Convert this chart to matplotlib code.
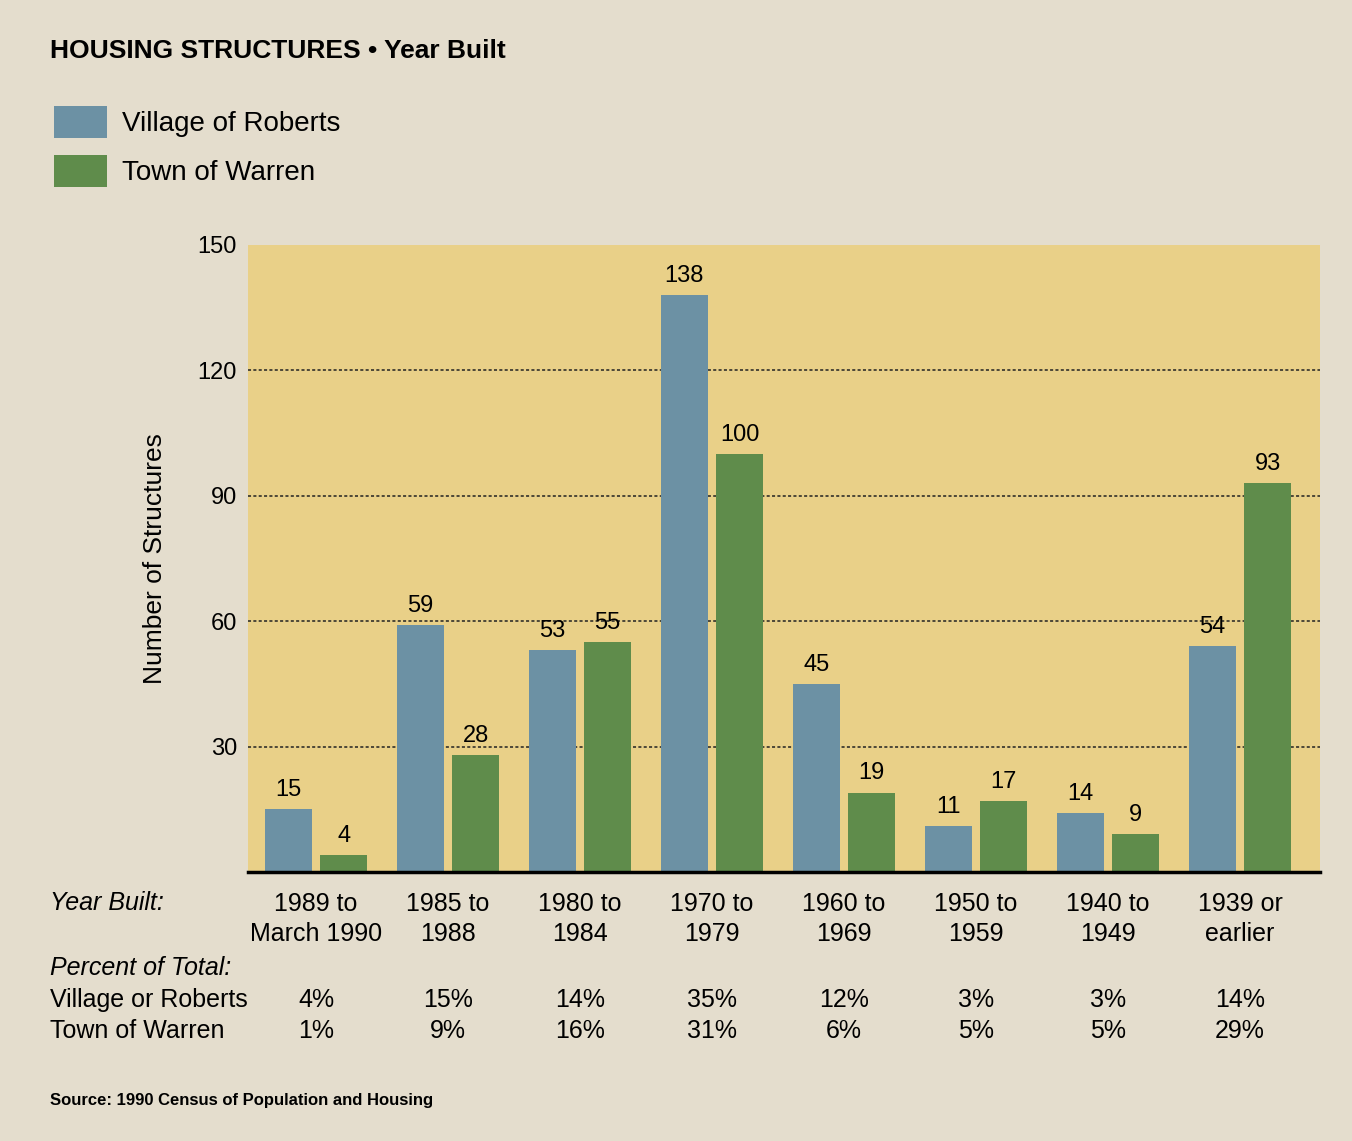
"""Housing structures by year built: Village of Roberts vs Town of Warren."""

import matplotlib

matplotlib.use("Agg")

import matplotlib.pyplot as plt
import numpy as np

periods = ["1989 to\nMarch 1990", "1985 to\n1988", "1980 to\n1984", "1970 to\n1979",
           "1960 to\n1969", "1950 to\n1959", "1940 to\n1949", "1939 or\nearlier"]
roberts = [15, 59, 53, 138, 45, 11, 14, 54]
warren = [4, 28, 55, 100, 19, 17, 9, 93]
roberts_pct = ["4%", "15%", "14%", "35%", "12%", "3%", "3%", "14%"]
warren_pct = ["1%", "9%", "16%", "31%", "6%", "5%", "5%", "29%"]
yticks = [30, 60, 90, 120, 150]

FONT = ["Liberation Sans Narrow", "Liberation Sans", "DejaVu Sans"]
plt.rcParams["font.family"] = FONT

PAPER = "#e4ddcd"
PLOT_BG = "#e9d088"
BLUE = "#6c91a4"
GREEN = "#5f8c4b"

fig = plt.figure(figsize=(13.52, 11.41), dpi=100, facecolor=PAPER)
ax = fig.add_axes([248 / 1352, 1 - 872 / 1141, 1072 / 1352, 627 / 1141])
ax.set_facecolor(PLOT_BG)

x = np.arange(len(periods))
off, w = 0.21, 0.36
b1 = ax.bar(x - off, roberts, w, color=BLUE, label="Village of Roberts", zorder=3)
b2 = ax.bar(x + off, warren, w, color=GREEN, label="Town of Warren", zorder=3)

for bars, vals in ((b1, roberts), (b2, warren)):
    for rect, v in zip(bars, vals):
        ax.annotate(str(v), (rect.get_x() + rect.get_width() / 2, v),
                    xytext=(0, 6), textcoords="offset points",
                    ha="center", va="bottom", fontsize=17, zorder=4)

ax.set_xlim(-0.515, 7.606)
ax.set_ylim(0, 150)
ax.set_yticks(yticks)
ax.set_yticklabels([str(t) for t in yticks], fontsize=17)
ax.set_xticks([])
ax.tick_params(axis="y", length=0, pad=8)
for t in yticks[:-1]:
    ax.axhline(t, color="#222222", linestyle=(0, (2, 1.5)), linewidth=1.1, zorder=2)
for s in ax.spines.values():
    s.set_visible(False)
ax.axhline(0, color="black", linewidth=2.5, zorder=5, clip_on=False)
ax.set_ylabel("Number of Structures", fontsize=19, labelpad=22)

# table under the chart
def fy(py):
    return 1 - py / 1141

xc = [ax.transData.transform((i, 0))[0] / 1352 for i in x]
fig.text(50 / 1352, fy(903), "Year Built:", fontsize=18, style="italic", va="center")
for xi, lab in zip(xc, periods):
    fig.text(xi, fy(919), lab, fontsize=18, ha="center", va="center", linespacing=1.3)
fig.text(50 / 1352, fy(968), "Percent of Total:", fontsize=18, style="italic", va="center")
fig.text(50 / 1352, fy(1000), "Village or Roberts", fontsize=18, va="center")
fig.text(50 / 1352, fy(1031), "Town of Warren", fontsize=18, va="center")
for xi, a, b in zip(xc, roberts_pct, warren_pct):
    fig.text(xi, fy(1000), a, fontsize=18, ha="center", va="center")
    fig.text(xi, fy(1031), b, fontsize=18, ha="center", va="center")

fig.text(50 / 1352, fy(1100), "Source: 1990 Census of Population and Housing",
         fontsize=12, fontweight="bold", va="center")
fig.text(50 / 1352, fy(51), "HOUSING STRUCTURES \u2022 Year Built",
         fontsize=19, fontweight="bold", va="center")

fig.legend(handles=[b1, b2], loc="upper left", bbox_to_anchor=(54 / 1352, fy(106)),
           frameon=False, fontsize=20, handlelength=1.9, handleheight=1.4,
           handletextpad=0.55, labelspacing=0.6, borderaxespad=0, borderpad=0)

fig.savefig("out.png", dpi=100, facecolor=PAPER)
